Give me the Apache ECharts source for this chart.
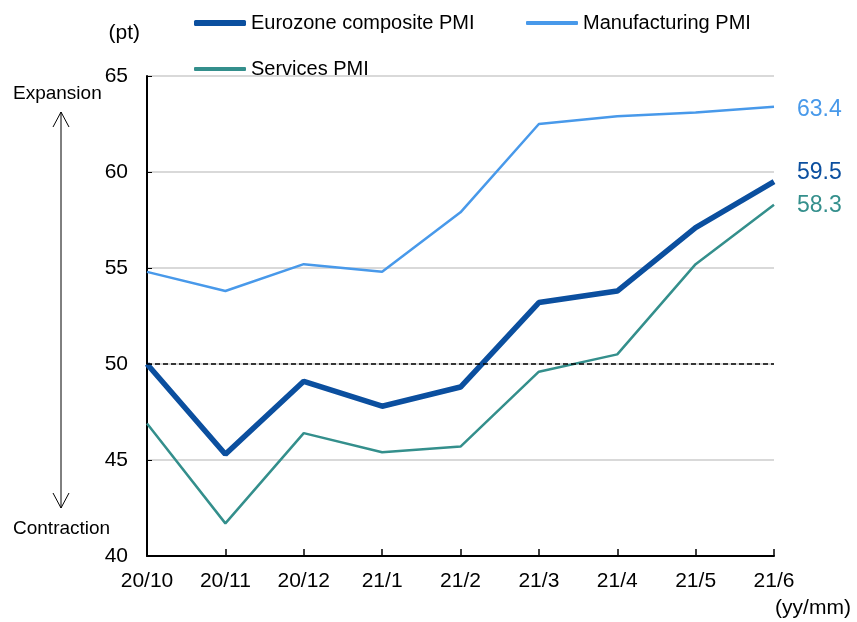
<!DOCTYPE html>
<html>
<head>
<meta charset="utf-8">
<script src="https://cdn.jsdelivr.net/npm/echarts@6/dist/echarts.min.js"></script>
<style>
  html, body { margin: 0; padding: 0; background: #fff; }
  #chart { width: 857px; height: 622px; }
</style>
</head>
<body>
<div id="chart"></div>
<script>
// Monthly PMI readings, Oct 2020 – Jun 2021
const months = ['20/10', '20/11', '20/12', '21/1', '21/2', '21/3', '21/4', '21/5', '21/6'];
const composite = [50.0, 45.3, 49.1, 47.8, 48.8, 53.2, 53.8, 57.1, 59.5];
const manufacturing = [54.8, 53.8, 55.2, 54.8, 57.9, 62.5, 62.9, 63.1, 63.4];
const services = [46.9, 41.7, 46.4, 45.4, 45.7, 49.6, 50.5, 55.2, 58.3];
const yTicks = [40, 45, 50, 55, 60, 65];
const threshold = 50;

const C_COMP = '#0b4f9f';
const C_MFG = '#4899ea';
const C_SVC = '#348f8c';
const FONT = '"Liberation Sans", Arial, sans-serif';

// value label at the right end of each line, in the line's colour
function endLabel(color, dy) {
  return {
    show: true, distance: 23, offset: [0, dy],
    color: color, fontSize: 23, fontFamily: FONT,
    formatter: p => Number(p.value).toFixed(1)
  };
}

function legendItem(name, left, top, thick) {
  return {
    data: [name], left: left, top: top, padding: 0,
    itemWidth: 52, itemHeight: thick, icon: 'roundRect',
    textStyle: { fontSize: 20, fontFamily: FONT, color: '#000' }
  };
}

const chart = echarts.init(document.getElementById('chart'));
chart.setOption({
  animation: false,
  grid: { left: 147, right: 83, top: 76, bottom: 66 },
  legend: [
    legendItem('Eurozone composite PMI', 194, 13, 6),
    legendItem('Manufacturing PMI', 526, 13, 4),
    legendItem('Services PMI', 194, 59, 4)
  ],
  xAxis: {
    type: 'category',
    data: months,
    boundaryGap: false,
    axisLine: { lineStyle: { color: '#000', width: 2 } },
    axisTick: { inside: true, length: 7, lineStyle: { color: '#000', width: 1.5 } },
    axisLabel: { color: '#000', fontSize: 21, fontFamily: FONT, margin: 15 },
    name: '(yy/mm)',
    nameLocation: 'end',
    nameGap: 0,
    nameTextStyle: { color: '#000', fontSize: 21, fontFamily: FONT, align: 'center', verticalAlign: 'top', padding: [42, 0, 0, 78] }
  },
  yAxis: {
    type: 'value',
    min: yTicks[0],
    max: yTicks[yTicks.length - 1],
    interval: 5,
    axisLine: { show: true, lineStyle: { color: '#000', width: 2 } },
    axisTick: { show: true, inside: true, length: 5, lineStyle: { color: '#000' } },
    axisLabel: { color: '#000', fontSize: 21, fontFamily: FONT, margin: 19 },
    splitLine: { lineStyle: { color: '#d9d9d9', width: 2 } },
    name: '(pt)',
    nameLocation: 'end',
    nameGap: 32,
    nameTextStyle: { color: '#000', fontSize: 21, fontFamily: FONT, align: 'right', padding: [0, 7, 0, 0] }
  },
  series: [
    {
      name: 'Eurozone composite PMI', type: 'line', data: composite,
      symbol: 'none', z: 4, color: C_COMP,
      lineStyle: { color: C_COMP, width: 5.5 },
      endLabel: endLabel(C_COMP, -9),
      markLine: {
        silent: true, symbol: 'none', label: { show: false },
        lineStyle: { color: '#000', type: [5, 3], width: 1.5 },
        data: [{ yAxis: threshold }]
      }
    },
    {
      name: 'Manufacturing PMI', type: 'line', data: manufacturing,
      symbol: 'none', z: 3, color: C_MFG,
      lineStyle: { color: C_MFG, width: 2.5 },
      endLabel: endLabel(C_MFG, 3)
    },
    {
      name: 'Services PMI', type: 'line', data: services,
      symbol: 'none', z: 3, color: C_SVC,
      lineStyle: { color: C_SVC, width: 2.5 },
      endLabel: endLabel(C_SVC, 1)
    }
  ],
  graphic: [
    { type: 'text', left: 13, top: 84, style: { text: 'Expansion', fontSize: 19, fontFamily: FONT, fill: '#000' } },
    { type: 'text', left: 13, top: 519, style: { text: 'Contraction', fontSize: 19, fontFamily: FONT, fill: '#000' } },
    { type: 'line', shape: { x1: 61, y1: 112, x2: 61, y2: 508 }, style: { stroke: '#000', lineWidth: 1 } },
    { type: 'polyline', shape: { points: [[53, 127], [61, 112], [69, 127]] }, style: { stroke: '#000', fill: null, lineWidth: 1 } },
    { type: 'polyline', shape: { points: [[53, 493], [61, 508], [69, 493]] }, style: { stroke: '#000', fill: null, lineWidth: 1 } }
  ]
});
</script>
</body>
</html>
